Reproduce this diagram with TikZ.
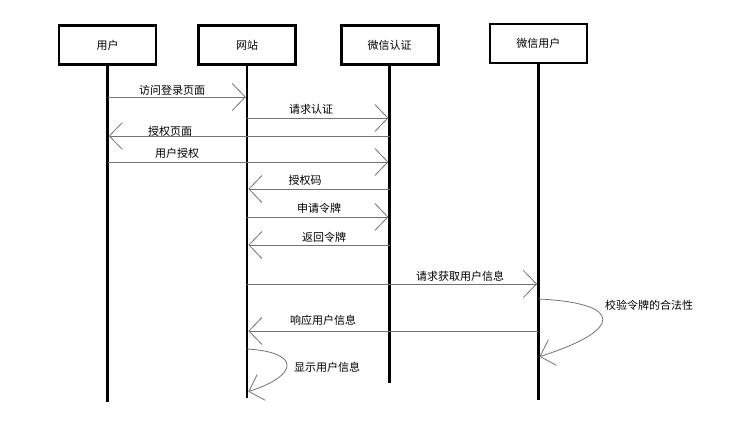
\documentclass[tikz,border=0pt]{standalone}
\usepackage{fontspec}
\setmainfont{Noto Sans CJK SC}
\usetikzlibrary{arrows.meta, positioning}

\begin{document}
\begin{tikzpicture}[
			x=1pt, y=-1pt,
			node distance=40pt,
			actor/.style={
				rectangle,
				draw,
				minimum width=97pt,
				minimum height=39pt,
				font=\fontsize{11}{13}\selectfont,
				line width=2.6pt
			},
			life/.style={
				line width=2.6pt
			},
			msg/.style={
				-{Straight Barb[length=13pt, width=27pt, line width=0.8pt]},
				draw=black!55,
				line width=0.8pt,
				shorten >=1.3pt
			},
			msgtext/.style={
				font=\fontsize{11}{13}\selectfont,
				inner sep=1pt
			}
			]
			
			\useasboundingbox (0,0) rectangle (743,422);
			
			% Actors
			\node[actor] (user) at (107.5,45) {用户};
			\node[actor, right=40pt of user] (site) {网站};
			\node[actor, right=43pt of site] (auth) {微信认证};
			\node[actor, right=49pt of auth, yshift=1.5pt] (wxuser) {微信用户};
			
			% Lifelines
			\draw[life] (user.south) -- (user.south |- 0,402);
			\draw[life] (site.south) -- (site.south |- 0,398);
			\draw[life] (auth.south) -- (auth.south |- 0,383);
			\draw[life] (wxuser.south) -- (wxuser.south |- 0,400);
			
			% 1: login page
			\draw[msg] (user |- 0,97) -- (site |- 0,97);
			\node[msgtext] (m1) at (172,90) {访问登录页面};
			
			% 2: auth request
			\draw[msg] (site |- 0,118) -- (auth |- 0,118);
			\node[msgtext] (m2) at (311,109) {请求认证};
			
			% 3: auth page
			\draw[msg] (auth |- 0,136) -- (user |- 0,136);
			\node[msgtext] (m3) at (170,131) {授权页面};
			
			% 4: user grants
			\draw[msg] (user |- 0,162) -- (auth |- 0,162);
			\node[msgtext] (m4) at (177,153) {用户授权};
			
			% 5: code
			\draw[msg] (auth |- 0,189) -- (site |- 0,189);
			\node[msgtext] (m5) at (305,180) {授权码};
			
			% 6: token request
			\draw[msg] (site |- 0,217) -- (auth |- 0,217);
			\node[msgtext] (m6) at (319,208) {申请令牌};
			
			% 7: token
			\draw[msg] (auth |- 0,245) -- (site |- 0,245);
			\node[msgtext] (m7) at (324,237) {返回令牌};
			
			% 8: user info request
			\draw[msg] (site |- 0,284) -- (wxuser |- 0,284);
			\node[msgtext] (m8) at (460,276) {请求获取用户信息};
			
			% 9: check token
			\draw[msg] (wxuser |- 0,299) .. controls (624,303) and (624,330) .. (wxuser |- 0,357);
			\node[msgtext] (m9) at (649,305) {校验令牌的合法性};
			
			% 10: user info response
			\draw[msg] (wxuser |- 0,331) -- (site |- 0,331);
			\node[msgtext] (m10) at (323,320) {响应用户信息};
			
			% 11: show user info
			\draw[msg] (site |- 0,349) .. controls (300,352) and (300,375) .. (site |- 0,392);
			\node[msgtext] (m11) at (327,367) {显示用户信息};
			
		\end{tikzpicture}
\end{document}
